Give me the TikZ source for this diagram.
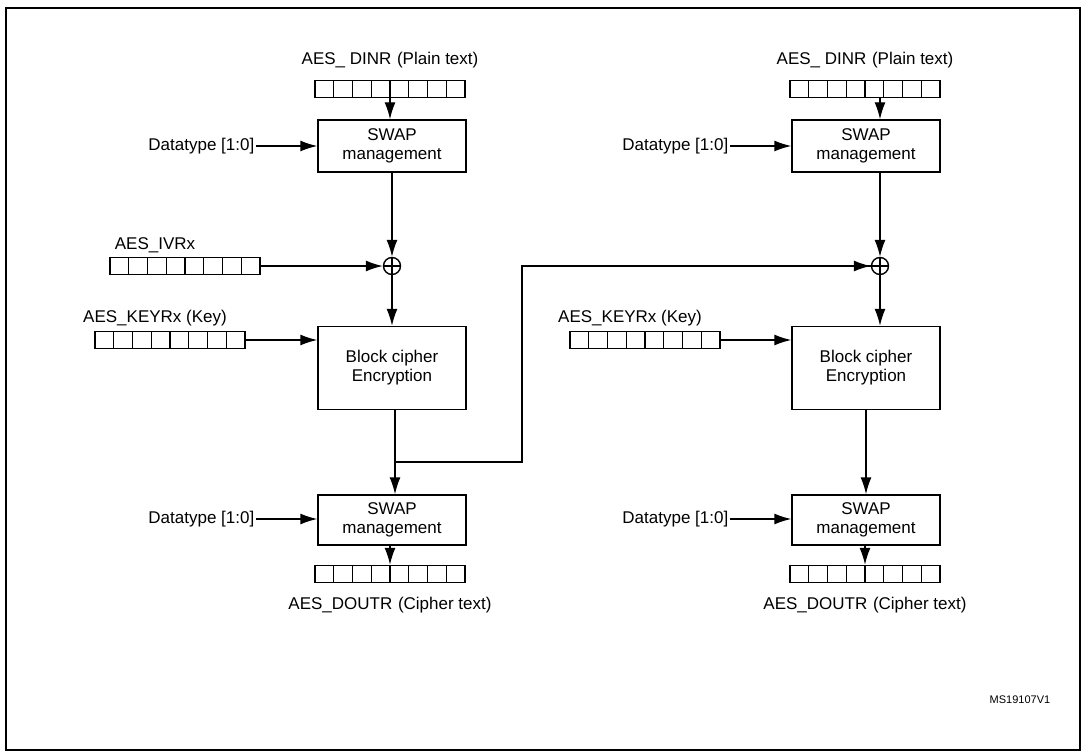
\documentclass[tikz,border=0pt]{standalone}
\usepackage{fontspec}
\setmainfont{Liberation Sans}
\usetikzlibrary{positioning,arrows.meta}
\tikzset{
  every path/.style={line width=1.4pt},
  box/.style={draw, line width=1.4pt, minimum width=148pt, align=center, inner sep=0pt},
  reg/.style={draw, line width=1.4pt, minimum width=150pt, minimum height=17pt, inner sep=0pt,
    path picture={\foreach \k in {1,...,7}
      \draw ([xshift=\k*18.75pt]path picture bounding box.south west) -- ([xshift=\k*18.75pt]path picture bounding box.north west);}},
  xor/.style={draw, line width=1.4pt, circle, minimum size=17pt, inner sep=0pt,
    path picture={\draw (path picture bounding box.north) -- (path picture bounding box.south)
      (path picture bounding box.west) -- (path picture bounding box.east);}},
  lbl/.style={inner sep=1pt},
  arr/.style={-{Latex[length=17pt,width=11pt]}}
}
\begin{document}
\begin{tikzpicture}[x=1pt, y=-1pt, font=\fontsize{17}{19}\selectfont]
	\useasboundingbox (0,0) rectangle (1085,751);
	\draw[line width=2pt] (6,760) -- (6,8) -- (1080,8) -- (1080,760);
	\draw (6,750) -- (1080,750);

	% left column
	\node[lbl] (pl) at (390,60)      {AES\_ DINR\,\,(Plain text)};
	\node[reg] (inl) at (390,89)      {};
	\node[box, minimum height=52pt] (swl) at (392,146)     {SWAP\\management};
	\node[lbl, anchor=east] (dtl) at (256,146)     {Datatype [1:0]};
	\node[xor] (xl) at (392,266)     {};
	\node[lbl] (ivl) at (155,245)     {AES\_IVRx};
	\node[reg] (iv) at (185,266)     {};
	\node[lbl] (kll) at (155,318)     {AES\_KEYRx (Key)};
	\node[reg] (kl) at (170,340)     {};
	\node[box, minimum height=83pt] (bcl) at (392,368)     {Block cipher\\Encryption};
	\node[box, minimum height=50pt] (sol) at (392,520)     {SWAP\\management};
	\node[lbl, anchor=east] (dol) at (256,519)     {Datatype [1:0]};
	\node[reg] (outl) at (390,574)     {};
	\node[lbl] (cl) at (390,605)     {AES\_DOUTR\,\,(Cipher text)};

	% right column
	\node[lbl] (pr) at (865,60)      {AES\_ DINR\,\,(Plain text)};
	\node[reg] (inr) at (865,89)      {};
	\node[box, minimum height=52pt] (swr) at (866,146)     {SWAP\\management};
	\node[lbl, anchor=east] (dtr) at (730,146)     {Datatype [1:0]};
	\node[xor] (xr) at (880,266)     {};
	\node[lbl] (krl) at (630,318)     {AES\_KEYRx (Key)};
	\node[reg] (kr) at (645,340)     {};
	\node[box, minimum height=83pt] (bcr) at (866,368)     {Block cipher\\Encryption};
	\node[box, minimum height=50pt] (sor) at (866,520)     {SWAP\\management};
	\node[lbl, anchor=east] (dor) at (730,519)     {Datatype [1:0]};
	\node[reg] (outr) at (865,574)     {};
	\node[lbl] (cr) at (865,605)     {AES\_DOUTR\,\,(Cipher text)};

	\node[font=\fontsize{11}{13}\selectfont] (ms) at (1020,700)     {MS19107V1};

	\coordinate (br) at (395,462);

    \draw[arr] (inl) -- (inl |- swl.north);
    \draw[arr] (dtl) -- (swl);
    \draw[arr] (swl.south -| xl) -- (xl);
    \draw[arr] (iv) -- (xl);
    \draw[arr] (xl) -- (xl |- bcl.north);
    \draw[arr] (kl) -- (kl -| bcl.west);
    \draw[arr] (bcl.south -| br) -- (br |- sol.north);
    \draw (br) -| (522,266) -- (xr.west);
    \draw[arr] (522,266) -- (xr);
    \draw[arr] (dol) -- (dol -| sol.west);
    \draw[arr] (sol.south -| outl) -- (outl);

    \draw[arr] (inr.south -| xr) -- (xr |- swr.north);
    \draw[arr] (dtr) -- (swr);
    \draw[arr] (swr.south -| xr) -- (xr);
    \draw[arr] (xr) -- (xr |- bcr.north);
    \draw[arr] (kr) -- (kr -| bcr.west);
    \draw[arr] (bcr) -- (sor);
    \draw[arr] (dor) -- (dor -| sor.west);
    \draw[arr] (sor.south -| outr) -- (outr);
\end{tikzpicture}
\end{document}
